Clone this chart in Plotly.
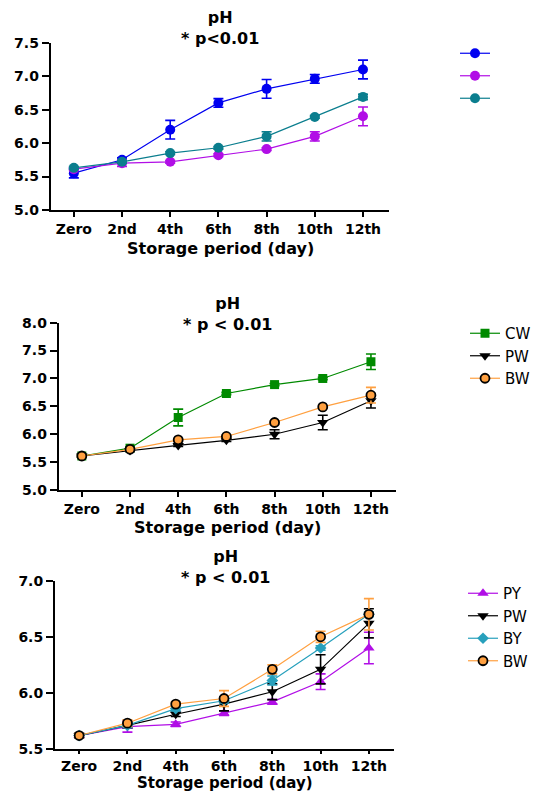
import plotly.graph_objects as go

# The page body has an 8px margin, so the figure is drawn 8px in from the
# top-left corner of the window; size it to the visible area.
OFF = 8
W, H = 544 - OFF, 794 - OFF

days = ["Zero", "2nd", "4th", "6th", "8th", "10th", "12th"]

# Chart 1 (unlabelled legend)
c1_blue = [5.55, 5.75, 6.20, 6.60, 6.81, 6.96, 7.10]
c1_blue_err = [0.07, 0.03, 0.14, 0.065, 0.14, 0.065, 0.14]
c1_mag = [5.61, 5.70, 5.72, 5.82, 5.91, 6.10, 6.40]
c1_mag_err = [0.02, 0.05, 0.02, 0.02, 0.02, 0.07, 0.14]
c1_teal = [5.63, 5.72, 5.85, 5.93, 6.10, 6.39, 6.69]
c1_teal_err = [0.02, 0.02, 0.02, 0.02, 0.07, 0.02, 0.04]

# Chart 2
cw = [5.61, 5.75, 6.30, 6.73, 6.89, 7.00, 7.30]
cw_err = [0.02, 0.02, 0.15, 0.02, 0.02, 0.02, 0.14]
pw = [5.61, 5.71, 5.80, 5.89, 6.00, 6.21, 6.60]
pw_err = [0.02, 0.02, 0.02, 0.02, 0.08, 0.13, 0.13]
bw = [5.61, 5.73, 5.90, 5.96, 6.21, 6.49, 6.70]
bw_err = [0.02, 0.02, 0.02, 0.02, 0.02, 0.02, 0.14]

# Chart 3
py3 = [5.62, 5.70, 5.72, 5.82, 5.92, 6.10, 6.40]
py3_err = [0.02, 0.05, 0.02, 0.02, 0.02, 0.07, 0.14]
pw3 = [5.62, 5.71, 5.81, 5.90, 6.01, 6.21, 6.62]
pw3_err = [0.02, 0.02, 0.02, 0.06, 0.07, 0.13, 0.13]
by3 = [5.62, 5.71, 5.86, 5.93, 6.11, 6.40, 6.70]
by3_err = [0.02, 0.02, 0.02, 0.02, 0.04, 0.02, 0.02]
bw3 = [5.62, 5.73, 5.90, 5.95, 6.21, 6.50, 6.70]
bw3_err = [0.02, 0.03, 0.02, 0.07, 0.04, 0.05, 0.14]

FONT = "DejaVu Sans, Verdana, sans-serif"

fig = go.Figure()


def add(y, err, color, symbol, name, xa, ya, legend, mcolor=None, mline=None, size=10):
    fig.add_trace(go.Scatter(
        x=days, y=y, name=name, mode="lines+markers",
        xaxis=xa, yaxis=ya, legend=legend,
        line=dict(color=color, width=1.2),
        marker=dict(symbol=symbol, size=size, color=mcolor or color,
                    line=dict(color=mline or (mcolor or color), width=1.8 if mline else 0)),
        error_y=dict(type="data", array=err, visible=True, color=color,
                     thickness=1.6, width=5),
        cliponaxis=False,
    ))


BLUE = "#0000F0"
MAG = "#B10EE6"
TEAL = "#0B7E8E"
GREEN = "#008A00"
ORANGE = "#FFA040"
CYAN = "#27A0BC"

add(c1_blue, c1_blue_err, BLUE, "circle", " ", "x", "y", "legend")
add(c1_mag, c1_mag_err, MAG, "circle", " ", "x", "y", "legend")
add(c1_teal, c1_teal_err, TEAL, "circle", " ", "x", "y", "legend")

add(cw, cw_err, GREEN, "square", "CW", "x2", "y2", "legend2", size=9)
add(pw, pw_err, "#000000", "triangle-down", "PW", "x2", "y2", "legend2", size=10)
add(bw, bw_err, ORANGE, "circle", "BW", "x2", "y2", "legend2", mcolor=ORANGE, mline="#000000", size=9)

add(py3, py3_err, MAG, "triangle-up", "PY", "x3", "y3", "legend3", size=10)
add(pw3, pw3_err, "#000000", "triangle-down", "PW", "x3", "y3", "legend3", size=10)
add(by3, by3_err, CYAN, "diamond", "BY", "x3", "y3", "legend3", size=9)
add(bw3, bw3_err, ORANGE, "circle", "BW", "x3", "y3", "legend3", mcolor=ORANGE, mline="#000000", size=9)


def px_x(p):
    return (p - OFF) / W


def px_y(p):
    return 1 - (p - OFF) / H


# positions given in window pixels
panels = [
    ("xaxis", "yaxis", 50.7, 389, 42.7, 210, [5.0, 7.5], [-0.48, 6.54], 5),
    ("xaxis2", "yaxis2", 58.7, 396, 322.7, 490, [5.0, 8.0], [-0.48, 6.52], 5),
    ("xaxis3", "yaxis3", 55, 394, 580.7, 749, [5.5, 7.0], [-0.5, 6.52], 3),
]

tickfont = dict(family=FONT, size=14, color="#000000", weight="bold")
layout = {}
for i, (xk, yk, x0, x1, yt, yb, yr, xr, tl) in enumerate(panels):
    anchor_y = "y" if i == 0 else f"y{i+1}"
    anchor_x = "x" if i == 0 else f"x{i+1}"
    layout[xk] = dict(domain=[px_x(x0), px_x(x1)], anchor=anchor_y, range=xr,
                      showline=True, linecolor="#000000", linewidth=2,
                      ticks="outside", ticklen=tl, tickwidth=2, tickcolor="#000000",
                      showgrid=False, zeroline=False, tickfont=tickfont,
                      type="category", automargin=False)
    layout[yk] = dict(domain=[px_y(yb), px_y(yt)], anchor=anchor_x, range=yr,
                      showline=True, linecolor="#000000", linewidth=2,
                      ticks="outside", ticklen=7, tickwidth=2, tickcolor="#000000",
                      showgrid=False, zeroline=False, tickfont=tickfont,
                      dtick=0.5, tickformat=".1f", automargin=False)

annotations = []
# (title text, title centre y, x centre, x-axis title y, anchor, x-title size)
titles = [("pH<br>* p<0.01", 28, 220, 248, "middle", 16),
          ("pH<br>* p < 0.01", 314, 227, 527, "middle", 16),
          ("pH<br>* p < 0.01", 566.5, 225, 794, "bottom", 15)]
for txt, ty, xc, yx, anc, fs in titles:
    annotations.append(dict(text=txt, x=px_x(xc), y=px_y(ty), xref="paper", yref="paper",
                            showarrow=False, xanchor="center", yanchor="middle",
                            font=dict(family=FONT, size=16, color="#000000", weight="bold")))
    annotations.append(dict(text="Storage period (day)", x=px_x(xc), y=px_y(yx),
                            xref="paper", yref="paper", showarrow=False,
                            xanchor="center", yanchor=anc,
                            font=dict(family=FONT, size=fs, color="#000000", weight="bold")))

legfont = dict(family=FONT, size=15, color="#000000")
leg_common = dict(font=legfont, bgcolor="rgba(0,0,0,0)", xanchor="left", yanchor="top",
                  itemwidth=30, tracegroupgap=0)

fig.update_layout(
    width=W, height=H,
    margin=dict(l=0, r=0, t=0, b=0, autoexpand=False),
    paper_bgcolor="white", plot_bgcolor="white",
    showlegend=True,
    annotations=annotations,
    legend=dict(x=px_x(455), y=px_y(37), **leg_common),
    legend2=dict(x=px_x(465), y=px_y(317), **leg_common),
    legend3=dict(x=px_x(463), y=px_y(577), **leg_common),
    **layout,
)

fig.write_html("out.html")
